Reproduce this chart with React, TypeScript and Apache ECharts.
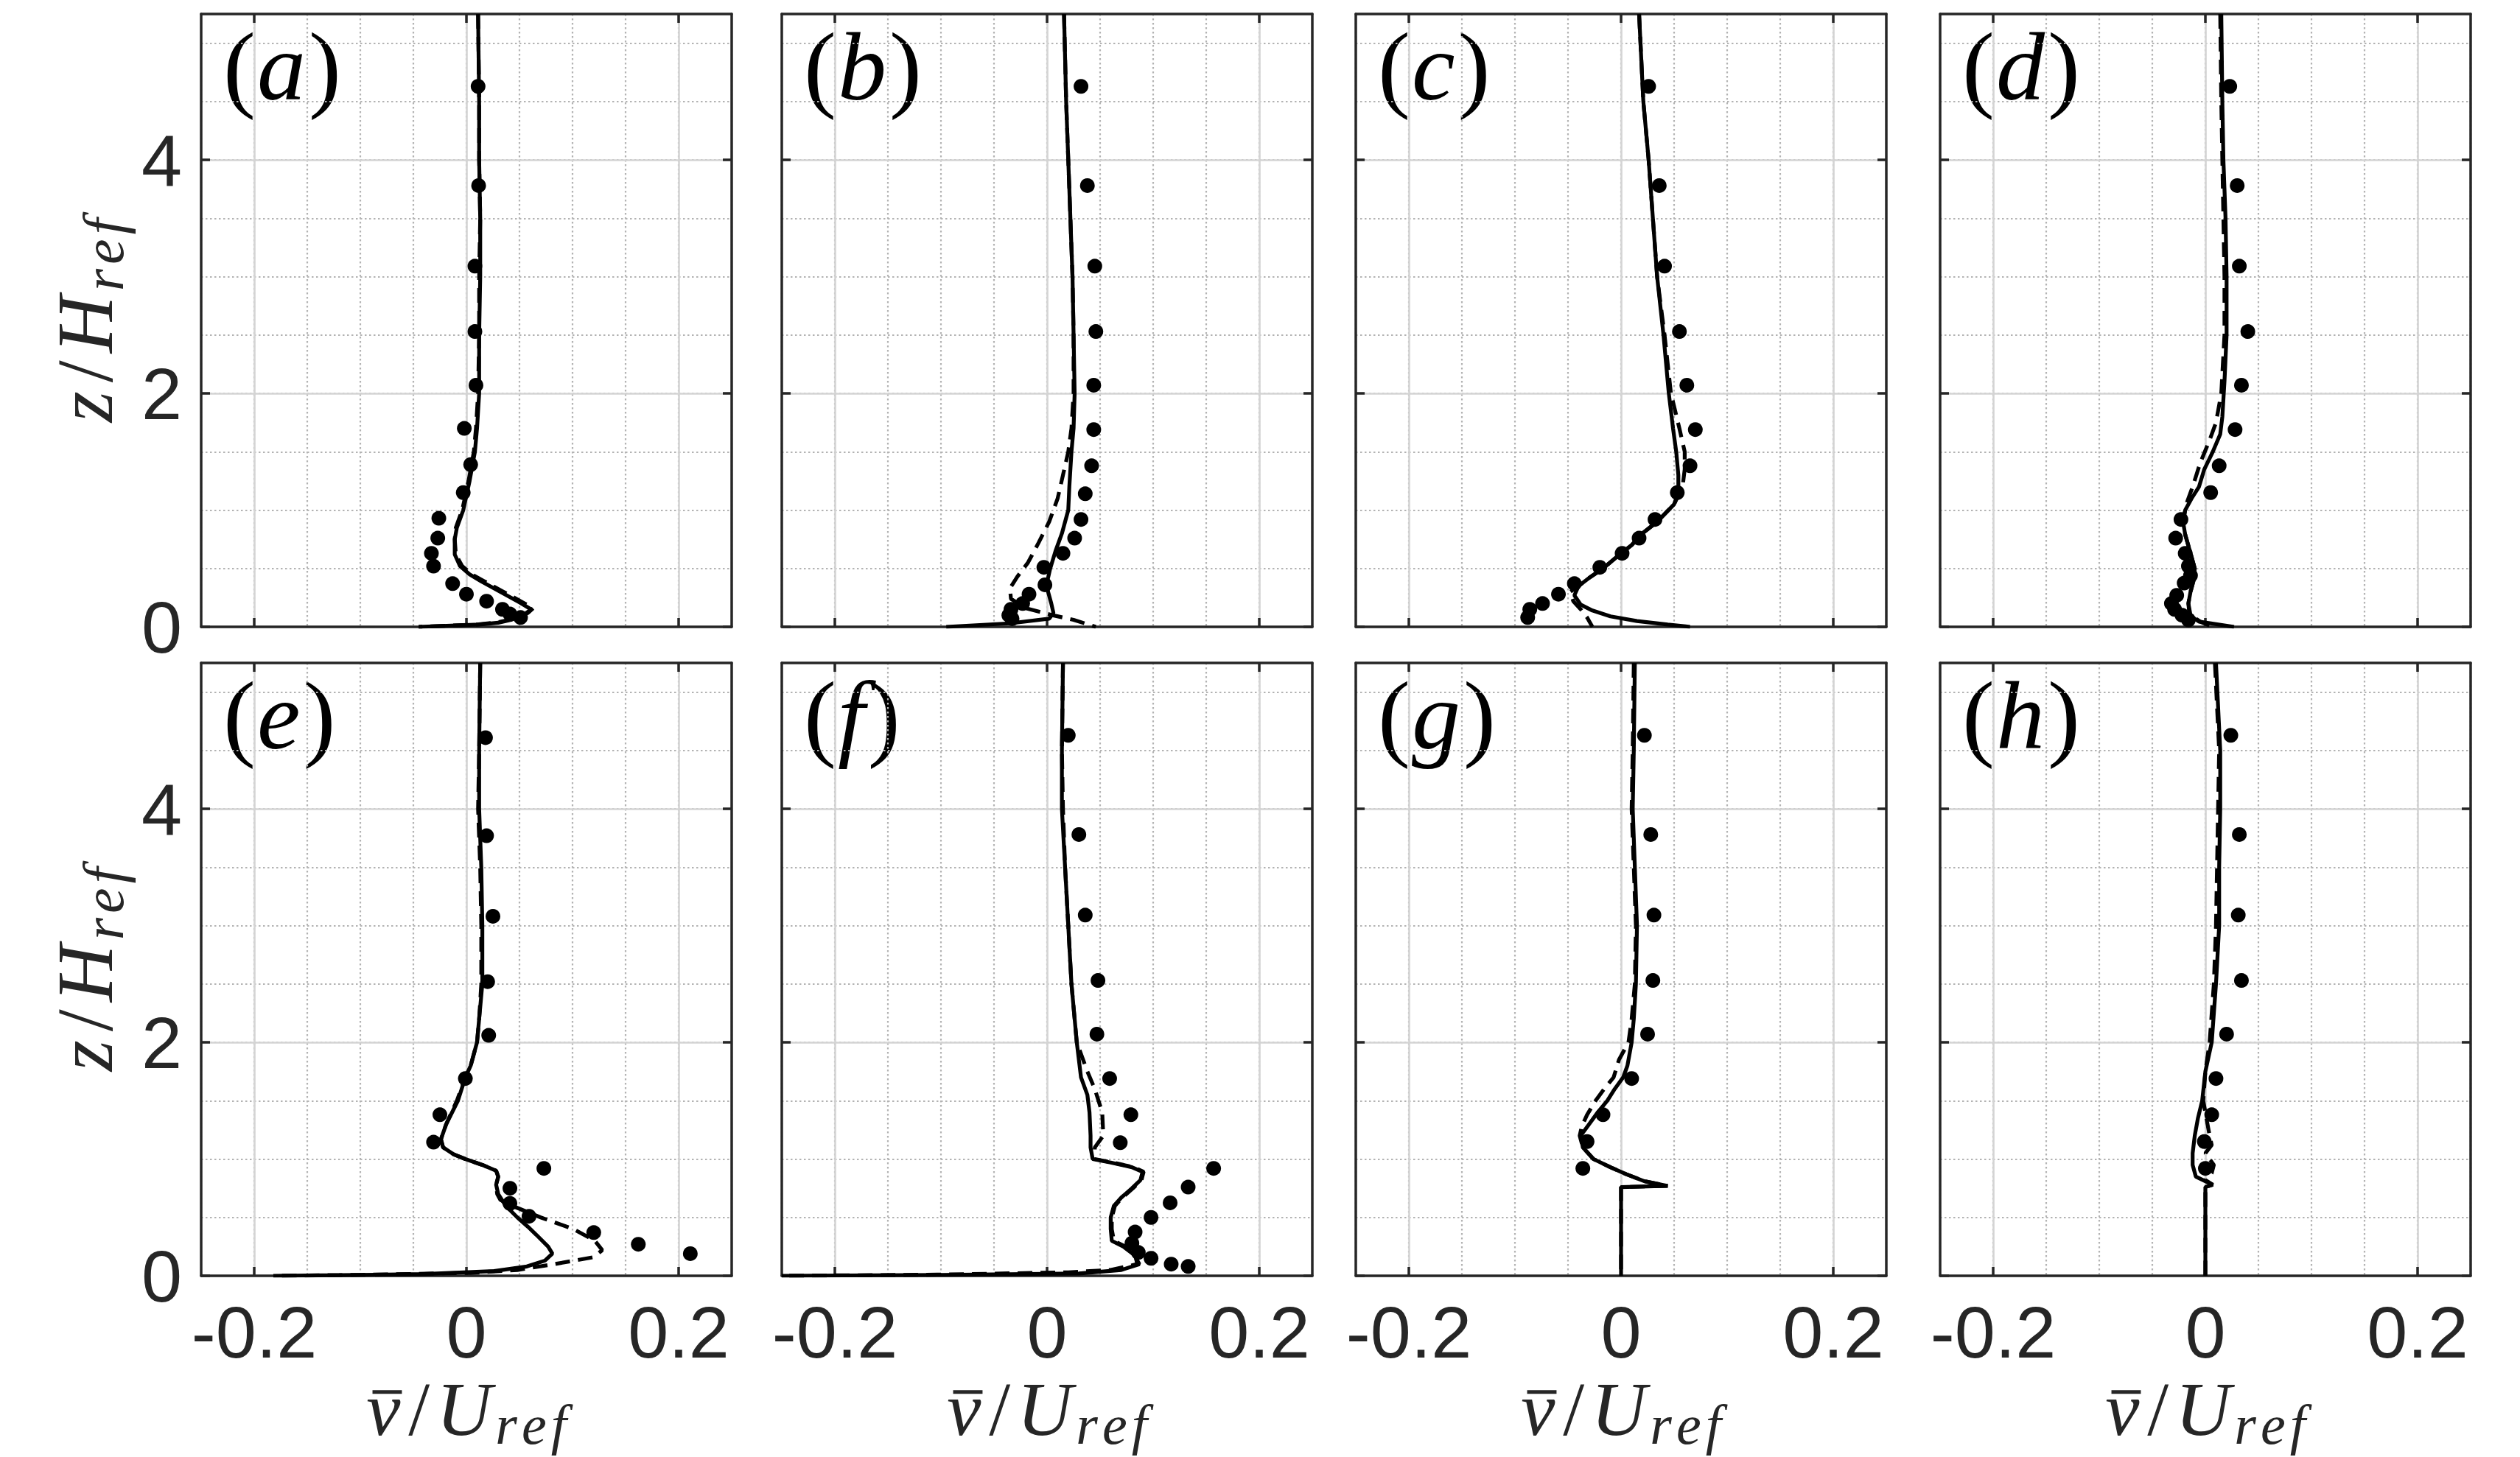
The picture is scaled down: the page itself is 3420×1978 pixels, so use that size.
import React, { useEffect, useRef } from "react";
import * as echarts from "echarts";

// ---------- axis setup ----------
const xMin = -0.25;
const xMax = 0.25;
const yMin = 0;
const yMax = 5.25;
const xTicks = [-0.2, 0, 0.2];
const yTicks = [0, 2, 4];
const panelLetters = ["a", "b", "c", "d", "e", "f", "g", "h"];

// ---------- data: [v/U, z/H] ----------
const solidA = [[0.011,5.25],[0.012,4.5],[0.012,4.0],[0.013,3.5],[0.013,3.0],[0.012,2.5],[0.012,2.0],[0.010,1.7],[0.008,1.5],[0.003,1.25],[-0.003,1.0],[-0.009,0.85],[-0.011,0.75],[-0.011,0.62],[-0.006,0.52],[0.003,0.45],[0.014,0.39],[0.032,0.30],[0.050,0.21],[0.061,0.15],[0.055,0.11],[0.042,0.06],[0.030,0.035],[0.012,0.02],[-0.045,0.0]];
const dashedA = [[0.011,5.25],[0.012,4.5],[0.012,4.0],[0.013,3.5],[0.012,3.0],[0.012,2.5],[0.011,2.0],[0.009,1.7],[0.007,1.5],[0.002,1.25],[-0.004,1.0],[-0.010,0.85],[-0.011,0.75],[-0.010,0.62],[-0.004,0.52],[0.005,0.45],[0.017,0.39],[0.035,0.30],[0.053,0.21],[0.063,0.16],[0.058,0.12],[0.045,0.07],[0.030,0.04],[0.010,0.02],[-0.045,0.0]];
const dotsA = [[0.011,4.63],[0.0115,3.78],[0.008,3.09],[0.008,2.53],[0.009,2.07],[-0.002,1.70],[0.004,1.39],[-0.003,1.15],[-0.026,0.93],[-0.027,0.76],[-0.033,0.63],[-0.031,0.52],[-0.013,0.37],[0.0,0.28],[0.019,0.22],[0.034,0.15],[0.041,0.11],[0.051,0.08]];

const solidB = [[0.016,5.25],[0.018,4.5],[0.020,4.0],[0.022,3.5],[0.024,3.0],[0.025,2.5],[0.026,2.0],[0.025,1.7],[0.023,1.5],[0.021,1.2],[0.020,1.0],[0.014,0.8],[0.008,0.65],[0.003,0.5],[0.0,0.38],[0.001,0.3],[0.004,0.2],[0.006,0.12],[0.002,0.07],[-0.035,0.03],[-0.095,0.0]];
const dashedB = [[0.016,5.25],[0.018,4.5],[0.020,4.0],[0.022,3.5],[0.024,3.0],[0.025,2.5],[0.025,2.0],[0.023,1.7],[0.020,1.5],[0.015,1.3],[0.010,1.1],[0.002,0.9],[-0.008,0.72],[-0.018,0.55],[-0.028,0.43],[-0.035,0.33],[-0.034,0.24],[-0.020,0.16],[0.005,0.1],[0.025,0.06],[0.046,0.0]];
const dotsB = [[0.032,4.63],[0.038,3.78],[0.045,3.09],[0.046,2.53],[0.044,2.07],[0.044,1.69],[0.042,1.38],[0.036,1.14],[0.032,0.92],[0.026,0.76],[0.015,0.63],[-0.003,0.51],[-0.002,0.36],[-0.017,0.28],[-0.023,0.20],[-0.034,0.15],[-0.036,0.10],[-0.033,0.07]];

const solidC = [[0.017,5.25],[0.021,4.5],[0.026,4.0],[0.030,3.5],[0.034,3.0],[0.040,2.5],[0.045,2.0],[0.049,1.7],[0.052,1.5],[0.054,1.3],[0.054,1.15],[0.050,1.05],[0.034,0.9],[0.020,0.8],[0.010,0.7],[-0.004,0.6],[-0.017,0.5],[-0.030,0.42],[-0.040,0.35],[-0.044,0.27],[-0.038,0.19],[-0.027,0.14],[-0.010,0.09],[0.015,0.05],[0.044,0.02],[0.065,0.0]];
const dashedC = [[0.017,5.25],[0.021,4.5],[0.026,4.0],[0.030,3.5],[0.034,3.0],[0.041,2.5],[0.047,2.0],[0.055,1.7],[0.060,1.5],[0.060,1.35],[0.058,1.2],[0.050,1.05],[0.034,0.9],[0.020,0.8],[0.010,0.7],[-0.004,0.6],[-0.017,0.5],[-0.030,0.42],[-0.040,0.35],[-0.048,0.3],[-0.045,0.22],[-0.038,0.15],[-0.032,0.08],[-0.027,0.0]];
const dotsC = [[0.026,4.63],[0.036,3.78],[0.041,3.09],[0.055,2.53],[0.062,2.07],[0.070,1.69],[0.065,1.38],[0.053,1.15],[0.032,0.92],[0.017,0.76],[0.001,0.63],[-0.020,0.51],[-0.044,0.37],[-0.059,0.28],[-0.074,0.20],[-0.086,0.15],[-0.088,0.08]];

const solidD = [[0.015,5.25],[0.016,4.5],[0.017,4.0],[0.019,3.5],[0.020,3.0],[0.020,2.5],[0.018,2.1],[0.016,1.8],[0.014,1.65],[0.007,1.5],[-0.001,1.35],[-0.006,1.2],[-0.013,1.1],[-0.019,1.0],[-0.021,0.9],[-0.019,0.79],[-0.013,0.6],[-0.010,0.5],[-0.011,0.4],[-0.014,0.3],[-0.016,0.2],[-0.015,0.1],[-0.006,0.045],[0.027,0.0]];
const dashedD = [[0.014,5.25],[0.015,4.5],[0.016,4.0],[0.017,3.5],[0.018,3.0],[0.018,2.5],[0.015,2.0],[0.010,1.75],[0.004,1.6],[-0.005,1.4],[-0.012,1.2],[-0.018,1.05],[-0.021,0.9],[-0.019,0.79],[-0.013,0.6],[-0.010,0.5],[-0.011,0.4],[-0.014,0.3],[-0.016,0.2],[-0.014,0.1],[-0.004,0.04],[0.007,0.0]];
const dotsD = [[0.023,4.63],[0.030,3.78],[0.032,3.09],[0.040,2.53],[0.034,2.07],[0.028,1.69],[0.013,1.38],[0.005,1.15],[-0.023,0.92],[-0.028,0.76],[-0.019,0.63],[-0.016,0.52],[-0.014,0.44],[-0.020,0.375],[-0.027,0.27],[-0.032,0.20],[-0.029,0.15],[-0.022,0.10],[-0.016,0.06]];

const solidE = [[0.013,5.25],[0.012,4.5],[0.012,4.0],[0.014,3.5],[0.015,3.0],[0.015,2.5],[0.012,2.2],[0.010,2.0],[0.004,1.8],[-0.001,1.7],[-0.008,1.5],[-0.019,1.3],[-0.024,1.17],[-0.022,1.1],[-0.012,1.04],[-0.001,1.0],[0.015,0.95],[0.028,0.9],[0.030,0.85],[0.028,0.78],[0.030,0.7],[0.037,0.6],[0.048,0.5],[0.058,0.42],[0.066,0.35],[0.077,0.25],[0.081,0.19],[0.074,0.13],[0.057,0.08],[0.026,0.04],[-0.04,0.015],[-0.12,0.005],[-0.182,0.0]];
const dashedE = [[0.013,5.25],[0.012,4.5],[0.011,4.0],[0.013,3.5],[0.014,3.0],[0.014,2.5],[0.012,2.2],[0.010,2.0],[0.004,1.8],[-0.001,1.7],[-0.009,1.5],[-0.019,1.3],[-0.024,1.17],[-0.022,1.1],[-0.012,1.04],[-0.001,1.0],[0.015,0.95],[0.028,0.9],[0.030,0.85],[0.028,0.78],[0.029,0.7],[0.032,0.65],[0.043,0.6],[0.070,0.5],[0.101,0.4],[0.121,0.3],[0.128,0.22],[0.120,0.16],[0.083,0.1],[0.048,0.05],[0.004,0.025],[-0.10,0.008],[-0.18,0.0]];
const dotsE = [[0.018,4.61],[0.019,3.77],[0.025,3.08],[0.020,2.52],[0.021,2.06],[-0.001,1.69],[-0.025,1.38],[-0.031,1.145],[0.073,0.92],[0.041,0.75],[0.041,0.62],[0.059,0.51],[0.120,0.37],[0.162,0.27],[0.211,0.19]];

const solidF = [[0.015,5.25],[0.014,4.5],[0.014,4.0],[0.017,3.5],[0.020,3.0],[0.023,2.5],[0.028,2.0],[0.032,1.7],[0.038,1.55],[0.040,1.4],[0.041,1.2],[0.041,1.1],[0.043,1.0],[0.060,0.97],[0.080,0.93],[0.090,0.89],[0.088,0.82],[0.080,0.75],[0.070,0.67],[0.063,0.6],[0.060,0.5],[0.060,0.4],[0.061,0.3],[0.072,0.25],[0.082,0.18],[0.087,0.1],[0.070,0.05],[0.030,0.02],[-0.10,0.008],[-0.25,0.0]];
const dashedF = [[0.015,5.25],[0.014,4.5],[0.015,4.0],[0.017,3.5],[0.020,3.0],[0.023,2.5],[0.028,2.0],[0.038,1.75],[0.045,1.6],[0.052,1.4],[0.053,1.2],[0.045,1.1],[0.045,1.0],[0.062,0.97],[0.082,0.93],[0.091,0.89],[0.089,0.82],[0.081,0.75],[0.071,0.67],[0.064,0.6],[0.061,0.5],[0.061,0.4],[0.063,0.3],[0.074,0.25],[0.083,0.18],[0.085,0.1],[0.060,0.05],[0.020,0.03],[-0.10,0.01],[-0.25,0.0]];
const dotsF = [[0.020,4.63],[0.030,3.78],[0.036,3.09],[0.048,2.53],[0.047,2.07],[0.059,1.69],[0.079,1.38],[0.069,1.14],[0.157,0.92],[0.133,0.76],[0.116,0.625],[0.098,0.50],[0.083,0.375],[0.080,0.28],[0.086,0.20],[0.098,0.15],[0.117,0.10],[0.133,0.08]];

const solidG = [[0.013,5.25],[0.012,4.5],[0.011,4.0],[0.013,3.5],[0.015,3.0],[0.014,2.5],[0.012,2.2],[0.010,2.0],[0.006,1.8],[0.002,1.7],[-0.006,1.6],[-0.013,1.5],[-0.022,1.4],[-0.030,1.3],[-0.038,1.2],[-0.036,1.1],[-0.026,1.0],[-0.010,0.93],[0.005,0.87],[0.022,0.81],[0.044,0.77],[0.0,0.76],[0.0,0.0]];
const dashedG = [[0.012,5.25],[0.011,4.5],[0.010,4.0],[0.012,3.5],[0.014,3.0],[0.013,2.5],[0.010,2.2],[0.007,2.0],[-0.002,1.85],[-0.007,1.7],[-0.016,1.6],[-0.024,1.5],[-0.032,1.38],[-0.037,1.28],[-0.039,1.2],[-0.036,1.1],[-0.026,1.0],[-0.010,0.93],[0.005,0.87],[0.022,0.81],[0.044,0.77],[0.0,0.76],[0.0,0.0]];
const dotsG = [[0.022,4.63],[0.028,3.78],[0.031,3.09],[0.030,2.53],[0.025,2.07],[0.010,1.69],[-0.017,1.38],[-0.032,1.15],[-0.036,0.92]];

const solidH = [[0.010,5.25],[0.014,4.5],[0.014,4.0],[0.013,3.5],[0.013,3.0],[0.010,2.5],[0.006,2.0],[0.0,1.75],[-0.003,1.5],[-0.007,1.35],[-0.010,1.2],[-0.012,1.05],[-0.012,0.95],[-0.009,0.85],[0.0,0.81],[0.007,0.78],[0.0,0.76],[0.0,0.0]];
const dashedH = [[0.009,5.25],[0.013,4.5],[0.012,4.0],[0.011,3.5],[0.010,3.0],[0.008,2.5],[0.004,2.0],[0.0,1.75],[-0.002,1.5],[0.0,1.4],[0.004,1.2],[0.006,1.12],[0.0,1.05],[0.008,0.95],[0.006,0.88],[0.0,0.82],[0.007,0.78],[0.0,0.76],[0.0,0.0]];
const dotsH = [[0.024,4.63],[0.032,3.78],[0.031,3.09],[0.034,2.53],[0.020,2.07],[0.010,1.69],[0.006,1.38],[-0.001,1.15],[0.0,0.92]];

const solids = [solidA, solidB, solidC, solidD, solidE, solidF, solidG, solidH];
const dasheds = [dashedA, dashedB, dashedC, dashedD, dashedE, dashedF, dashedG, dashedH];
const dots = [dotsA, dotsB, dotsC, dotsD, dotsE, dotsF, dotsG, dotsH];

// ---------- layout / style ----------
const colLeft = [273, 1061, 1840, 2633];
const rowTop = [19, 900];
const PW = 720;
const PH = 832;
const frame = "#262626";
const majorGrid = "#d4d4d4";
const minorGrid = "#b3b3b3";
const sans = "'Liberation Sans', Arial, Helvetica, sans-serif";
const serif = "'Liberation Serif', 'Times New Roman', serif";

type Part = { t: string; size: number; italic?: boolean; dy?: number; bar?: boolean; gap?: number };

let measureCtx: CanvasRenderingContext2D | null = null;
function measure(p: Part): number {
  if (!measureCtx) measureCtx = document.createElement("canvas").getContext("2d");
  measureCtx!.font = `${p.italic ? "italic " : ""}${p.size}px ${serif}`;
  return measureCtx!.measureText(p.t).width;
}

function mathLabel(parts: Part[], x: number, y: number, rotation: number, center: boolean, color: string) {
  const widths = parts.map(measure);
  const total = widths.reduce((a, b, k) => a + b + (k < parts.length - 1 ? parts[k].gap || 0 : 0), 0);
  let cursor = center ? -total / 2 : 0;
  const children: any[] = [];
  parts.forEach((p, k) => {
    children.push({
      type: "text",
      x: cursor,
      y: (p.dy || 0) - 0.3375 * p.size,
      style: {
        text: p.t,
        fontSize: p.size,
        lineHeight: Math.round(p.size * 0.8),
        fontFamily: serif,
        fontStyle: p.italic ? "italic" : "normal",
        fill: color,
        align: "left",
        verticalAlign: "middle",
      },
    });
    if (p.bar) {
      children.push({
        type: "line",
        shape: { x1: cursor + 0.08 * p.size, y1: -0.56 * p.size, x2: cursor + widths[k] + 0.02 * p.size, y2: -0.56 * p.size },
        style: { stroke: color, lineWidth: 5 },
      });
    }
    cursor += widths[k] + (p.gap || 0);
  });
  return { type: "group", x, y, rotation, children };
}

function buildOption() {
  const grids: any[] = [];
  const xAxes: any[] = [];
  const yAxes: any[] = [];
  const series: any[] = [];
  const graphics: any[] = [];
  const tickFmt = (v: number) => (v === 0 ? "0" : String(v));

  for (let i = 0; i < 8; i++) {
    const row = Math.floor(i / 4);
    const col = i % 4;
    const left = colLeft[col];
    const top = rowTop[row];
    grids.push({ left, top, width: PW, height: PH, show: false, containLabel: false, outerBoundsMode: "none" });

    const baseX = {
      type: "value", gridIndex: i, min: xMin, max: xMax, interval: 0.05,
      axisLine: { show: false, onZero: false }, axisTick: { show: false }, axisLabel: { show: false }, splitLine: { show: false },
    };
    const baseY = {
      type: "value", gridIndex: i, min: yMin, max: yMax,
      axisLine: { show: false, onZero: false }, axisTick: { show: false }, axisLabel: { show: false }, splitLine: { show: false },
    };
    const frameLine = { show: true, onZero: false, lineStyle: { color: frame, width: 3.5 } };

    // minor dotted grid
    xAxes.push({ ...baseX, position: "bottom", z: 0, splitLine: { show: true, lineStyle: { color: minorGrid, width: 2.2, type: [2.5, 3.5] } } });
    yAxes.push({ ...baseY, position: "left", interval: 0.5, z: 0, splitLine: { show: true, lineStyle: { color: minorGrid, width: 2.2, type: [2.5, 3.5] } } });

    // main axes
    const mx = xAxes.length;
    xAxes.push({
      ...baseX, position: "bottom", z: 1,
      axisLine: frameLine,
      axisTick: { show: true, inside: true, length: 12, customValues: xTicks, lineStyle: { color: frame, width: 3.5 } },
      axisLabel: { show: row === 1, customValues: xTicks, margin: 38, lineHeight: 76, fontSize: 99, fontFamily: sans, color: frame, formatter: tickFmt },
      splitLine: { show: true, lineStyle: { color: majorGrid, width: 2.6 } },
    });
    const my = yAxes.length;
    yAxes.push({
      ...baseY, position: "left", interval: 2, z: 1,
      axisLine: frameLine,
      axisTick: { show: true, inside: true, length: 12, customValues: yTicks, lineStyle: { color: frame, width: 3.5 } },
      axisLabel: { show: col === 0, customValues: yTicks, margin: 26, fontSize: 99, fontFamily: sans, color: frame, formatter: tickFmt },
      splitLine: { show: true, lineStyle: { color: majorGrid, width: 2.6 } },
    });
    // opposite frame sides
    xAxes.push({
      ...baseX, position: "top", z: 1, axisLine: frameLine,
      axisTick: { show: true, inside: true, length: 12, customValues: xTicks, lineStyle: { color: frame, width: 3.5 } },
    });
    yAxes.push({
      ...baseY, position: "right", interval: 2, z: 1, axisLine: frameLine,
      axisTick: { show: true, inside: true, length: 12, customValues: yTicks, lineStyle: { color: frame, width: 3.5 } },
    });

    series.push({
      type: "line", xAxisIndex: mx, yAxisIndex: my, data: dasheds[i], symbol: "none", z: 3,
      lineStyle: { color: "#000", width: 5.2, type: [20, 11] }, silent: true,
    });
    series.push({
      type: "line", xAxisIndex: mx, yAxisIndex: my, data: solids[i], symbol: "none", z: 3,
      lineStyle: { color: "#000", width: 5.2 }, silent: true,
    });
    series.push({
      type: "scatter", xAxisIndex: mx, yAxisIndex: my, data: dots[i], symbol: "circle", symbolSize: 20, z: 4,
      itemStyle: { color: "#000", opacity: 1 }, silent: true,
    });

    // panel label
    graphics.push(
      mathLabel(
        [{ t: "(", size: 132, gap: 2 }, { t: panelLetters[i], size: 132, italic: true, gap: 4 }, { t: ")", size: 132 }],
        left + 30, top + 116, 0, false, "#000"
      )
    );
    // x label under bottom row
    if (row === 1) {
      graphics.push(
        mathLabel(
          [
            { t: "v", size: 104, italic: true, bar: true, gap: 11 },
            { t: "/", size: 104, gap: 9 },
            { t: "U", size: 104, italic: true, gap: 5 },
            { t: "r", size: 76, italic: true, dy: 12, gap: 6 },
            { t: "e", size: 76, italic: true, dy: 12, gap: 6 },
            { t: "f", size: 76, italic: true, dy: 12 },
          ],
          left + PW / 2, 1948, 0, true, frame
        )
      );
    }
  }
  // y labels
  rowTop.forEach((t) => {
    graphics.push(
      mathLabel(
        [
          { t: "z", size: 108, italic: true, gap: 12 },
          { t: "/", size: 108, gap: 10 },
          { t: "H", size: 108, italic: true, gap: 6 },
          { t: "r", size: 78, italic: true, dy: 15, gap: 6 },
          { t: "e", size: 78, italic: true, dy: 15, gap: 6 },
          { t: "f", size: 78, italic: true, dy: 15 },
        ],
        152, t + PH / 2, Math.PI / 2, true, frame
      )
    );
  });

  return {
    animation: false,
    backgroundColor: "#ffffff",
    grid: grids,
    xAxis: xAxes,
    yAxis: yAxes,
    series,
    graphic: { elements: graphics },
  };
}

export default function App() {
  const ref = useRef<HTMLDivElement>(null);
  useEffect(() => {
    document.body.style.margin = "0";
    if (!ref.current) return;
    const chart = echarts.init(ref.current, null, { renderer: "svg" });
    chart.setOption(buildOption() as any);
    return () => chart.dispose();
  }, []);
  return <div ref={ref} style={{ width: 3420, height: 1978, background: "#fff" }} />;
}
